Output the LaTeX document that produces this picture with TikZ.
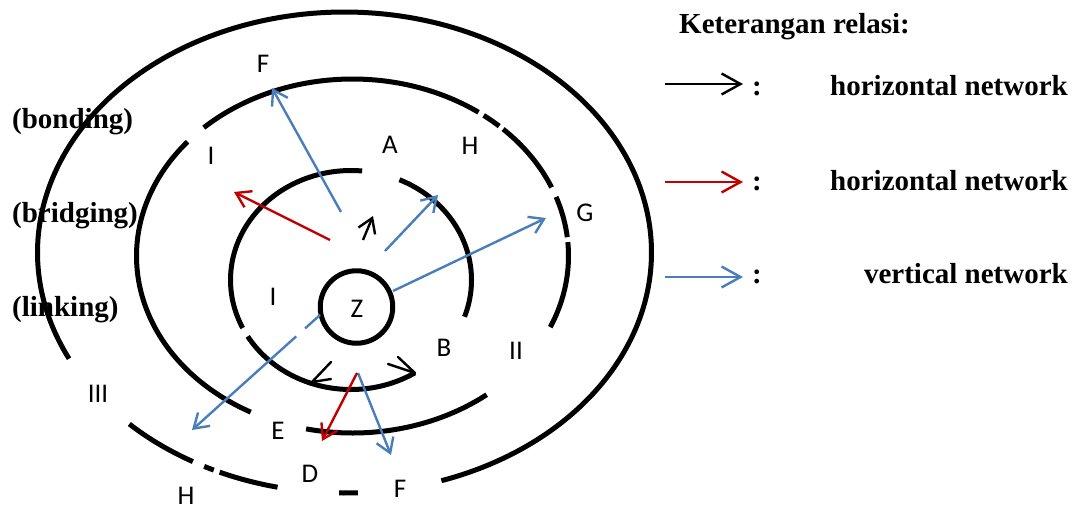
\documentclass[tikz,border=0pt]{standalone}
\usepackage{fontspec}
\setmainfont{Liberation Serif}
\newfontfamily\labfont{Carlito}
\usetikzlibrary{arrows.meta}
\definecolor{netblue}{HTML}{4A7EBB}
\definecolor{netred}{HTML}{C00000}
\begin{document}
\begin{tikzpicture}[x=1pt,y=-1pt,
  ring/.style={line width=5pt},
  arr/.style={line width=2.4pt,-{Straight Barb[length=14pt,width=18pt]}},
  legarr/.style={line width=2.4pt,-{Straight Barb[length=19pt,width=21pt]}},
  headline/.style={line width=2.4pt,line join=round,line cap=round},
  lab/.style={font=\labfont\fontsize{27}{32}\selectfont,inner sep=0pt},
  boldtxt/.style={font=\bfseries\fontsize{29}{34}\selectfont,inner sep=0pt},
  zcircle/.style={circle,draw,line width=5pt,minimum size=72.5pt,inner sep=0pt}]
\useasboundingbox (0,0) rectangle (1073,509);

% outer ring
\draw[ring] plot[domain=153.8:431.6,samples=220] ({344.5+307*cos(\x)},{252.5+240.5*sin(\x)});
\draw[ring] plot[domain=119.6:134.5,samples=20] ({344.5+307*cos(\x)},{252.5+240.5*sin(\x)});
\draw[ring] plot[domain=115.2:117.2,samples=5] ({344.5+307*cos(\x)},{252.5+240.5*sin(\x)});
\draw[ring] plot[domain=102.6:114,samples=15] ({344.5+307*cos(\x)},{252.5+240.5*sin(\x)});
\draw[ring] plot[domain=87.5:91,samples=5] ({344.5+307*cos(\x)},{252.5+240.5*sin(\x)});

% middle ring
\draw[ring] plot[domain=118.1:220.2,samples=100] ({352.5+216*cos(\x)},{256+177*sin(\x)});
\draw[ring] plot[domain=226.5:305.7,samples=80] ({352.5+216*cos(\x)},{256+177*sin(\x)});
\draw[ring] plot[domain=307.4:312.8,samples=6] ({352.5+216*cos(\x)},{256+177*sin(\x)});
\draw[ring] plot[domain=314.2:337.2,samples=25] ({352.5+216*cos(\x)},{256+177*sin(\x)});
\draw[ring] plot[domain=340.5:353.9,samples=15] ({352.5+216*cos(\x)},{256+177*sin(\x)});
\draw[ring] plot[domain=355.5:383.7,samples=30] ({352.5+216*cos(\x)},{256+177*sin(\x)});
\draw[ring] plot[domain=411.6:462.4,samples=50] ({352.5+216*cos(\x)},{256+177*sin(\x)});

% inner ring
\draw[ring] plot[domain=293.7:379.6,samples=80] ({351+120.5*cos(\x)},{280+109.5*sin(\x)});
\draw[ring] plot[domain=154:275.3,samples=100] ({351+120.5*cos(\x)},{280+109.5*sin(\x)});
\draw[ring] plot[domain=58:149,samples=80] ({351+120.5*cos(\x)},{280+109.5*sin(\x)});

% Z circle
\node[zcircle] (Z) at (356.5,307) {};
\node[lab] (zl) at (357,309) {Z};

% labels
\node[lab] (lF1) at (263,64) {F};
\node[lab] (lI1) at (211,156) {I};
\node[lab] (lA) at (390,145) {A};
\node[lab] (lH1) at (470,146) {H};
\node[lab] (lG) at (585,213) {G};
\node[lab] (lI2) at (273,297) {I};
\node[lab] (lB) at (444,348) {B};
\node[lab] (lII) at (516,351) {II};
\node[lab] (lIII) at (98,394) {III};
\node[lab] (lE) at (278,431) {E};
\node[lab] (lD) at (310,474) {D};
\node[lab] (lH2) at (186,496) {H};
\node[lab] (lF2) at (400,489) {F};

\node[boldtxt,anchor=base west] (bond) at (12,128) {(bonding)};
\node[boldtxt,anchor=base west] (brid) at (12,222) {(bridging)};
\node[boldtxt,anchor=base west] (link) at (12,316) {(linking)};

% arrow end points
\coordinate (b1s) at (341,212); \coordinate (b1e) at (272,88);
\coordinate (b2s) at (385,251); \coordinate (b2e) at (438,195);
\coordinate (b3s) at (393,291); \coordinate (b3e) at (546,218);
\coordinate (b4s) at (320,315); \coordinate (b4e) at (192,430);
\coordinate (b5s) at (358,373); \coordinate (b5e) at (391,455);
\coordinate (r1s) at (330,240); \coordinate (r1e) at (234,192);
\coordinate (r2s) at (357,373); \coordinate (r2e) at (322,441);
\coordinate (k1s) at (363,240); \coordinate (k1e) at (373,216);

\draw[arr,netblue] (b1s) -- (b1e);
\draw[arr,netblue] (b2s) -- (b2e);
\draw[arr,netblue] (b3s) -- (b3e);
\draw[arr,netblue,dash pattern=on 20pt off 12pt on 300pt] (b4s) -- (b4e);
\draw[arr,netblue] (b5s) -- (b5e);
\draw[arr,netred] (r1s) -- (r1e);
\draw[arr,netred] (r2s) -- (r2e);
\draw[arr,black] (k1s) -- (k1e);

% arrow heads on the inner ring
\coordinate (hlt) at (312,382); \coordinate (hl1) at (331,362); \coordinate (hl2) at (331,379);
\draw[headline] (hl1) -- (hlt) -- (hl2);
\coordinate (hrt) at (415,373); \coordinate (hr1) at (398,357); \coordinate (hr2) at (388,364);
\draw[headline] (hr1) -- (hrt) -- (hr2);

% legend
\node[boldtxt,anchor=base west] (leg) at (679,33) {Keterangan relasi:};
\coordinate (l1a) at (665,84); \coordinate (l1b) at (743,84);
\coordinate (l2a) at (665,182); \coordinate (l2b) at (743,182);
\coordinate (l3a) at (665,277); \coordinate (l3b) at (743,277);
\draw[legarr,black] (l1a) -- (l1b);
\draw[legarr,netred] (l2a) -- (l2b);
\draw[legarr,netblue] (l3a) -- (l3b);
\node[boldtxt,anchor=base] (c1) at (757,95) {:};
\node[boldtxt,anchor=base] (c2) at (757,190) {:};
\node[boldtxt,anchor=base] (c3) at (757,283) {:};
\node[boldtxt,anchor=base east] (t1) at (1068,95) {horizontal network};
\node[boldtxt,anchor=base east] (t2) at (1068,190) {horizontal network};
\node[boldtxt,anchor=base east] (t3) at (1068,283) {vertical network};
\end{tikzpicture}
\end{document}
